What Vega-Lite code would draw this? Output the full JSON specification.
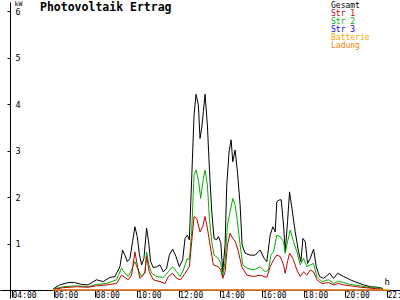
{
  "$schema": "https://vega.github.io/schema/vega-lite/v6.json",
  "width": 400,
  "height": 296,
  "autosize": {"type": "none"},
  "padding": {"left": 0, "top": 2, "right": 0, "bottom": 2},
  "background": "white",
  "title": {
    "text": "Photovoltaik Ertrag",
    "anchor": "start",
    "frame": "group",
    "orient": "top",
    "offset": -13,
    "baseline": "top",
    "dx": 40,
    "font": "DejaVu Sans Mono",
    "fontSize": 11.5,
    "fontWeight": "bold",
    "color": "black"
  },
  "config": {
    "view": {"stroke": null},
    "font": "DejaVu Sans Mono"
  },
  "datasets": {
    "pv": [
      {"s": "Str 3", "t": 5.97, "p": 0},
      {"s": "Str 3", "t": 21.85, "p": 0},
      {"s": "Gesamt", "t": 5.973, "p": 0.02},
      {"s": "Gesamt", "t": 6.293, "p": 0.11},
      {"s": "Gesamt", "t": 6.694, "p": 0.16},
      {"s": "Gesamt", "t": 7.015, "p": 0.16},
      {"s": "Gesamt", "t": 7.336, "p": 0.12},
      {"s": "Gesamt", "t": 7.656, "p": 0.11},
      {"s": "Gesamt", "t": 8.057, "p": 0.22},
      {"s": "Gesamt", "t": 8.378, "p": 0.18},
      {"s": "Gesamt", "t": 8.698, "p": 0.27},
      {"s": "Gesamt", "t": 8.939, "p": 0.29},
      {"s": "Gesamt", "t": 9.179, "p": 0.5},
      {"s": "Gesamt", "t": 9.308, "p": 0.86},
      {"s": "Gesamt", "t": 9.42, "p": 0.75},
      {"s": "Gesamt", "t": 9.532, "p": 0.61},
      {"s": "Gesamt", "t": 9.66, "p": 0.68},
      {"s": "Gesamt", "t": 9.789, "p": 1.04},
      {"s": "Gesamt", "t": 9.901, "p": 1.36},
      {"s": "Gesamt", "t": 10.013, "p": 1.15},
      {"s": "Gesamt", "t": 10.109, "p": 0.79},
      {"s": "Gesamt", "t": 10.222, "p": 0.54},
      {"s": "Gesamt", "t": 10.334, "p": 0.68},
      {"s": "Gesamt", "t": 10.462, "p": 1.33},
      {"s": "Gesamt", "t": 10.558, "p": 1.04},
      {"s": "Gesamt", "t": 10.654, "p": 0.61},
      {"s": "Gesamt", "t": 10.783, "p": 0.48},
      {"s": "Gesamt", "t": 10.943, "p": 0.5},
      {"s": "Gesamt", "t": 11.103, "p": 0.54},
      {"s": "Gesamt", "t": 11.264, "p": 0.39},
      {"s": "Gesamt", "t": 11.424, "p": 0.47},
      {"s": "Gesamt", "t": 11.553, "p": 0.75},
      {"s": "Gesamt", "t": 11.713, "p": 0.88},
      {"s": "Gesamt", "t": 11.873, "p": 0.72},
      {"s": "Gesamt", "t": 12.033, "p": 0.5},
      {"s": "Gesamt", "t": 12.194, "p": 0.65},
      {"s": "Gesamt", "t": 12.306, "p": 1.11},
      {"s": "Gesamt", "t": 12.418, "p": 1.18},
      {"s": "Gesamt", "t": 12.514, "p": 1.08},
      {"s": "Gesamt", "t": 12.627, "p": 2.4},
      {"s": "Gesamt", "t": 12.739, "p": 3.76},
      {"s": "Gesamt", "t": 12.835, "p": 4.21},
      {"s": "Gesamt", "t": 12.947, "p": 3.98},
      {"s": "Gesamt", "t": 13.027, "p": 3.26},
      {"s": "Gesamt", "t": 13.108, "p": 3.48},
      {"s": "Gesamt", "t": 13.188, "p": 3.84},
      {"s": "Gesamt", "t": 13.268, "p": 4.21},
      {"s": "Gesamt", "t": 13.38, "p": 3.55},
      {"s": "Gesamt", "t": 13.476, "p": 2.62},
      {"s": "Gesamt", "t": 13.589, "p": 1.68},
      {"s": "Gesamt", "t": 13.701, "p": 1.11},
      {"s": "Gesamt", "t": 13.829, "p": 1.08},
      {"s": "Gesamt", "t": 13.909, "p": 1.15},
      {"s": "Gesamt", "t": 14.022, "p": 1.02},
      {"s": "Gesamt", "t": 14.118, "p": 0.39},
      {"s": "Gesamt", "t": 14.23, "p": 0.97},
      {"s": "Gesamt", "t": 14.31, "p": 2.26},
      {"s": "Gesamt", "t": 14.422, "p": 2.97},
      {"s": "Gesamt", "t": 14.519, "p": 3.23},
      {"s": "Gesamt", "t": 14.599, "p": 2.76},
      {"s": "Gesamt", "t": 14.711, "p": 3.01},
      {"s": "Gesamt", "t": 14.823, "p": 2.54},
      {"s": "Gesamt", "t": 14.951, "p": 1.83},
      {"s": "Gesamt", "t": 15.048, "p": 0.97},
      {"s": "Gesamt", "t": 15.192, "p": 0.79},
      {"s": "Gesamt", "t": 15.432, "p": 0.75},
      {"s": "Gesamt", "t": 15.673, "p": 0.75},
      {"s": "Gesamt", "t": 15.913, "p": 0.86},
      {"s": "Gesamt", "t": 16.105, "p": 0.68},
      {"s": "Gesamt", "t": 16.234, "p": 0.61},
      {"s": "Gesamt", "t": 16.394, "p": 1.18},
      {"s": "Gesamt", "t": 16.523, "p": 1.36},
      {"s": "Gesamt", "t": 16.635, "p": 1.25},
      {"s": "Gesamt", "t": 16.715, "p": 1.9},
      {"s": "Gesamt", "t": 16.843, "p": 1.94},
      {"s": "Gesamt", "t": 16.923, "p": 1.94},
      {"s": "Gesamt", "t": 17.036, "p": 1.4},
      {"s": "Gesamt", "t": 17.116, "p": 0.82},
      {"s": "Gesamt", "t": 17.228, "p": 1.47},
      {"s": "Gesamt", "t": 17.324, "p": 2.11},
      {"s": "Gesamt", "t": 17.437, "p": 1.76},
      {"s": "Gesamt", "t": 17.597, "p": 1.25},
      {"s": "Gesamt", "t": 17.757, "p": 0.82},
      {"s": "Gesamt", "t": 17.869, "p": 0.61},
      {"s": "Gesamt", "t": 17.966, "p": 1.11},
      {"s": "Gesamt", "t": 18.078, "p": 1.04},
      {"s": "Gesamt", "t": 18.19, "p": 0.57},
      {"s": "Gesamt", "t": 18.318, "p": 0.68},
      {"s": "Gesamt", "t": 18.479, "p": 0.88},
      {"s": "Gesamt", "t": 18.607, "p": 0.5},
      {"s": "Gesamt", "t": 18.767, "p": 0.29},
      {"s": "Gesamt", "t": 18.96, "p": 0.25},
      {"s": "Gesamt", "t": 19.248, "p": 0.36},
      {"s": "Gesamt", "t": 19.441, "p": 0.25},
      {"s": "Gesamt", "t": 19.633, "p": 0.36},
      {"s": "Gesamt", "t": 19.922, "p": 0.29},
      {"s": "Gesamt", "t": 20.242, "p": 0.22},
      {"s": "Gesamt", "t": 20.563, "p": 0.16},
      {"s": "Gesamt", "t": 20.884, "p": 0.11},
      {"s": "Gesamt", "t": 21.205, "p": 0.07},
      {"s": "Gesamt", "t": 21.525, "p": 0.06},
      {"s": "Gesamt", "t": 21.765, "p": 0.04},
      {"s": "Gesamt", "t": 21.846, "p": 0},
      {"s": "Str 2", "t": 5.973, "p": 0.02},
      {"s": "Str 2", "t": 6.454, "p": 0.07},
      {"s": "Str 2", "t": 7.095, "p": 0.09},
      {"s": "Str 2", "t": 7.656, "p": 0.07},
      {"s": "Str 2", "t": 8.057, "p": 0.12},
      {"s": "Str 2", "t": 8.538, "p": 0.14},
      {"s": "Str 2", "t": 9.019, "p": 0.22},
      {"s": "Str 2", "t": 9.26, "p": 0.47},
      {"s": "Str 2", "t": 9.42, "p": 0.36},
      {"s": "Str 2", "t": 9.58, "p": 0.29},
      {"s": "Str 2", "t": 9.741, "p": 0.43},
      {"s": "Str 2", "t": 9.901, "p": 0.61},
      {"s": "Str 2", "t": 10.061, "p": 0.43},
      {"s": "Str 2", "t": 10.222, "p": 0.29},
      {"s": "Str 2", "t": 10.382, "p": 0.39},
      {"s": "Str 2", "t": 10.462, "p": 0.82},
      {"s": "Str 2", "t": 10.574, "p": 0.54},
      {"s": "Str 2", "t": 10.703, "p": 0.36},
      {"s": "Str 2", "t": 10.943, "p": 0.29},
      {"s": "Str 2", "t": 11.264, "p": 0.27},
      {"s": "Str 2", "t": 11.504, "p": 0.39},
      {"s": "Str 2", "t": 11.713, "p": 0.5},
      {"s": "Str 2", "t": 11.905, "p": 0.39},
      {"s": "Str 2", "t": 12.065, "p": 0.29},
      {"s": "Str 2", "t": 12.226, "p": 0.43},
      {"s": "Str 2", "t": 12.418, "p": 0.68},
      {"s": "Str 2", "t": 12.514, "p": 0.65},
      {"s": "Str 2", "t": 12.627, "p": 1.25},
      {"s": "Str 2", "t": 12.739, "p": 2.47},
      {"s": "Str 2", "t": 12.835, "p": 2.58},
      {"s": "Str 2", "t": 12.963, "p": 2.33},
      {"s": "Str 2", "t": 13.06, "p": 1.97},
      {"s": "Str 2", "t": 13.188, "p": 2.4},
      {"s": "Str 2", "t": 13.268, "p": 2.58},
      {"s": "Str 2", "t": 13.38, "p": 2.26},
      {"s": "Str 2", "t": 13.476, "p": 1.54},
      {"s": "Str 2", "t": 13.589, "p": 1.04},
      {"s": "Str 2", "t": 13.701, "p": 0.75},
      {"s": "Str 2", "t": 13.909, "p": 0.68},
      {"s": "Str 2", "t": 14.022, "p": 0.57},
      {"s": "Str 2", "t": 14.118, "p": 0.29},
      {"s": "Str 2", "t": 14.23, "p": 0.61},
      {"s": "Str 2", "t": 14.342, "p": 1.4},
      {"s": "Str 2", "t": 14.47, "p": 1.68},
      {"s": "Str 2", "t": 14.599, "p": 1.97},
      {"s": "Str 2", "t": 14.711, "p": 1.83},
      {"s": "Str 2", "t": 14.823, "p": 1.47},
      {"s": "Str 2", "t": 14.951, "p": 0.97},
      {"s": "Str 2", "t": 15.08, "p": 0.54},
      {"s": "Str 2", "t": 15.272, "p": 0.47},
      {"s": "Str 2", "t": 15.593, "p": 0.43},
      {"s": "Str 2", "t": 15.913, "p": 0.5},
      {"s": "Str 2", "t": 16.154, "p": 0.39},
      {"s": "Str 2", "t": 16.314, "p": 0.43},
      {"s": "Str 2", "t": 16.426, "p": 0.75},
      {"s": "Str 2", "t": 16.555, "p": 0.82},
      {"s": "Str 2", "t": 16.715, "p": 1.18},
      {"s": "Str 2", "t": 16.875, "p": 1.15},
      {"s": "Str 2", "t": 17.036, "p": 1.04},
      {"s": "Str 2", "t": 17.116, "p": 0.79},
      {"s": "Str 2", "t": 17.228, "p": 1.04},
      {"s": "Str 2", "t": 17.356, "p": 1.29},
      {"s": "Str 2", "t": 17.517, "p": 1.04},
      {"s": "Str 2", "t": 17.677, "p": 0.82},
      {"s": "Str 2", "t": 17.837, "p": 0.54},
      {"s": "Str 2", "t": 17.998, "p": 0.68},
      {"s": "Str 2", "t": 18.158, "p": 0.5},
      {"s": "Str 2", "t": 18.318, "p": 0.54},
      {"s": "Str 2", "t": 18.479, "p": 0.57},
      {"s": "Str 2", "t": 18.639, "p": 0.29},
      {"s": "Str 2", "t": 18.88, "p": 0.18},
      {"s": "Str 2", "t": 19.2, "p": 0.22},
      {"s": "Str 2", "t": 19.441, "p": 0.14},
      {"s": "Str 2", "t": 19.681, "p": 0.19},
      {"s": "Str 2", "t": 19.922, "p": 0.16},
      {"s": "Str 2", "t": 20.242, "p": 0.12},
      {"s": "Str 2", "t": 20.723, "p": 0.09},
      {"s": "Str 2", "t": 21.205, "p": 0.05},
      {"s": "Str 2", "t": 21.685, "p": 0.04},
      {"s": "Str 2", "t": 21.846, "p": 0},
      {"s": "Str 1", "t": 5.973, "p": 0.01},
      {"s": "Str 1", "t": 6.454, "p": 0.05},
      {"s": "Str 1", "t": 7.095, "p": 0.07},
      {"s": "Str 1", "t": 7.656, "p": 0.06},
      {"s": "Str 1", "t": 8.057, "p": 0.09},
      {"s": "Str 1", "t": 8.538, "p": 0.11},
      {"s": "Str 1", "t": 9.019, "p": 0.14},
      {"s": "Str 1", "t": 9.26, "p": 0.32},
      {"s": "Str 1", "t": 9.42, "p": 0.27},
      {"s": "Str 1", "t": 9.58, "p": 0.22},
      {"s": "Str 1", "t": 9.741, "p": 0.32},
      {"s": "Str 1", "t": 9.901, "p": 0.82},
      {"s": "Str 1", "t": 10.013, "p": 0.54},
      {"s": "Str 1", "t": 10.141, "p": 0.25},
      {"s": "Str 1", "t": 10.382, "p": 0.36},
      {"s": "Str 1", "t": 10.462, "p": 0.72},
      {"s": "Str 1", "t": 10.59, "p": 0.39},
      {"s": "Str 1", "t": 10.783, "p": 0.22},
      {"s": "Str 1", "t": 11.103, "p": 0.18},
      {"s": "Str 1", "t": 11.344, "p": 0.14},
      {"s": "Str 1", "t": 11.504, "p": 0.29},
      {"s": "Str 1", "t": 11.713, "p": 0.36},
      {"s": "Str 1", "t": 11.905, "p": 0.25},
      {"s": "Str 1", "t": 12.097, "p": 0.22},
      {"s": "Str 1", "t": 12.306, "p": 0.36},
      {"s": "Str 1", "t": 12.514, "p": 0.5},
      {"s": "Str 1", "t": 12.627, "p": 1.04},
      {"s": "Str 1", "t": 12.739, "p": 1.58},
      {"s": "Str 1", "t": 12.867, "p": 1.54},
      {"s": "Str 1", "t": 13.027, "p": 1.25},
      {"s": "Str 1", "t": 13.156, "p": 1.36},
      {"s": "Str 1", "t": 13.268, "p": 1.58},
      {"s": "Str 1", "t": 13.38, "p": 1.33},
      {"s": "Str 1", "t": 13.509, "p": 0.97},
      {"s": "Str 1", "t": 13.669, "p": 0.54},
      {"s": "Str 1", "t": 13.909, "p": 0.5},
      {"s": "Str 1", "t": 14.022, "p": 0.43},
      {"s": "Str 1", "t": 14.118, "p": 0.25},
      {"s": "Str 1", "t": 14.23, "p": 0.39},
      {"s": "Str 1", "t": 14.342, "p": 0.97},
      {"s": "Str 1", "t": 14.47, "p": 1.22},
      {"s": "Str 1", "t": 14.599, "p": 1.11},
      {"s": "Str 1", "t": 14.727, "p": 1.04},
      {"s": "Str 1", "t": 14.871, "p": 0.82},
      {"s": "Str 1", "t": 15.032, "p": 0.5},
      {"s": "Str 1", "t": 15.272, "p": 0.32},
      {"s": "Str 1", "t": 15.593, "p": 0.29},
      {"s": "Str 1", "t": 15.913, "p": 0.32},
      {"s": "Str 1", "t": 16.234, "p": 0.27},
      {"s": "Str 1", "t": 16.394, "p": 0.5},
      {"s": "Str 1", "t": 16.555, "p": 0.65},
      {"s": "Str 1", "t": 16.715, "p": 0.75},
      {"s": "Str 1", "t": 16.875, "p": 0.72},
      {"s": "Str 1", "t": 17.036, "p": 0.54},
      {"s": "Str 1", "t": 17.116, "p": 0.36},
      {"s": "Str 1", "t": 17.228, "p": 0.61},
      {"s": "Str 1", "t": 17.324, "p": 0.79},
      {"s": "Str 1", "t": 17.485, "p": 0.68},
      {"s": "Str 1", "t": 17.677, "p": 0.43},
      {"s": "Str 1", "t": 17.837, "p": 0.29},
      {"s": "Str 1", "t": 17.998, "p": 0.39},
      {"s": "Str 1", "t": 18.158, "p": 0.32},
      {"s": "Str 1", "t": 18.318, "p": 0.43},
      {"s": "Str 1", "t": 18.479, "p": 0.39},
      {"s": "Str 1", "t": 18.639, "p": 0.22},
      {"s": "Str 1", "t": 18.88, "p": 0.14},
      {"s": "Str 1", "t": 19.2, "p": 0.16},
      {"s": "Str 1", "t": 19.441, "p": 0.11},
      {"s": "Str 1", "t": 19.681, "p": 0.14},
      {"s": "Str 1", "t": 19.922, "p": 0.11},
      {"s": "Str 1", "t": 20.242, "p": 0.09},
      {"s": "Str 1", "t": 20.723, "p": 0.06},
      {"s": "Str 1", "t": 21.205, "p": 0.04},
      {"s": "Str 1", "t": 21.685, "p": 0.02},
      {"s": "Str 1", "t": 21.846, "p": 0},
      {"s": "Batterie", "t": 5.97, "p": 0},
      {"s": "Batterie", "t": 22.15, "p": 0},
      {"s": "Ladung", "t": 5.97, "p": 0},
      {"s": "Ladung", "t": 22.15, "p": 0}
    ]
  },
  "data": {"name": "pv"},
  "mark": {"type": "line", "strokeWidth": 1, "interpolate": "linear"},
  "encoding": {
    "x": {
      "field": "t",
      "type": "quantitative",
      "scale": {"domain": [3.424, 22.627], "nice": false, "zero": false},
      "axis": {
        "orient": "bottom",
        "offset": -8,
        "values": [4, 6, 8, 10, 12, 14, 16, 18, 20, 22],
        "labelExpr": "format(datum.value, '02d') + ':00'",
        "grid": false,
        "domainColor": "black",
        "domainWidth": 1,
        "tickColor": "black",
        "tickSize": 7,
        "tickWidth": 1,
        "labelAlign": "left",
        "labelBaseline": "top",
        "labelPadding": -6,
        "labelDx": 2,
        "labelFont": "DejaVu Sans Mono",
        "labelFontSize": 8,
        "labelColor": "black",
        "labelOverlap": false,
        "labelFlush": false,
        "title": "h",
        "titleFont": "DejaVu Sans Mono",
        "titleFontSize": 9,
        "titleFontWeight": "normal",
        "titleColor": "black",
        "titleAngle": 0,
        "titleAlign": "left",
        "titleBaseline": "top",
        "titleX": 384,
        "titleY": -13
      }
    },
    "y": {
      "field": "p",
      "type": "quantitative",
      "scale": {"domain": [-0.172, 6.194], "nice": false, "zero": false},
      "axis": {
        "orient": "left",
        "offset": -10,
        "values": [1, 2, 3, 4, 5, 6],
        "grid": false,
        "domainColor": "black",
        "domainWidth": 1,
        "tickColor": "black",
        "tickSize": 3,
        "tickWidth": 1,
        "labelAlign": "left",
        "labelBaseline": "middle",
        "labelPadding": -8,
        "labelFont": "DejaVu Sans Mono",
        "labelFontSize": 8.5,
        "labelColor": "black",
        "labelOverlap": false,
        "labelFlush": false,
        "title": "kW",
        "titleFont": "DejaVu Sans Mono",
        "titleFontSize": 6.5,
        "titleFontWeight": "normal",
        "titleColor": "black",
        "titleAngle": 0,
        "titleAlign": "left",
        "titleBaseline": "top",
        "titleX": 4,
        "titleY": -2
      }
    },
    "color": {
      "field": "s",
      "type": "nominal",
      "scale": {
        "domain": ["Gesamt", "Str 1", "Str 2", "Str 3", "Batterie", "Ladung"],
        "range": ["#000000", "#c00000", "#00b000", "#0000ff", "#ffa500", "#ff7f00"]
      },
      "legend": {
        "orient": "none",
        "legendX": 323,
        "legendY": 0,
        "title": null,
        "padding": 0,
        "symbolSize": 0,
        "symbolOpacity": 0,
        "symbolStrokeWidth": 0,
        "labelOffset": 0,
        "rowPadding": -1.2,
        "labelFont": "DejaVu Sans Mono",
        "labelFontSize": 8,
        "labelBaseline": "middle",
        "encode": {
          "labels": {"update": {"fill": {"scale": "color", "field": "value"}}}
        }
      }
    }
  }
}
